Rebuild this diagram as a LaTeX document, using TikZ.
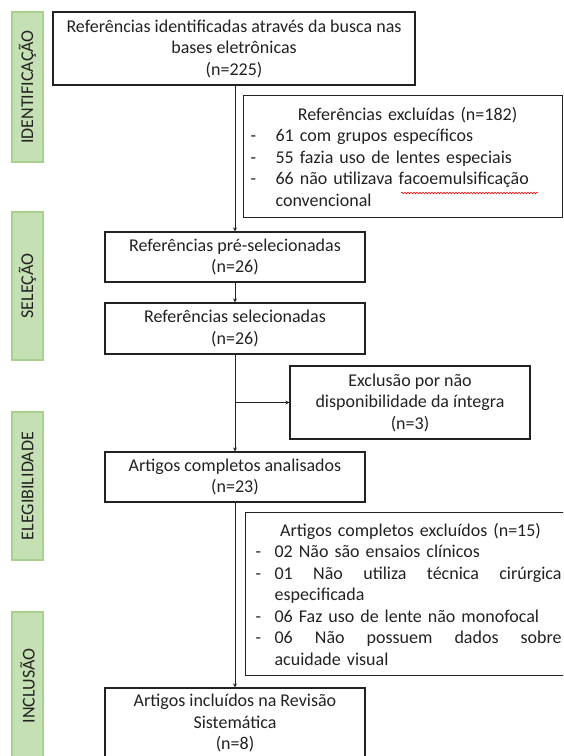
\documentclass[tikz,border=0pt]{standalone}
\usepackage{fontspec}
\setmainfont{Carlito}
\usetikzlibrary{arrows.meta,positioning,calc,decorations.pathmorphing}
\definecolor{phasefill}{HTML}{C5E0B4}
\definecolor{phaseline}{HTML}{A9D18E}
\definecolor{ink}{HTML}{222222}
\newcommand{\dashitem}[2][19pt]{\makebox[#1][l]{-}#2}
\newcommand{\contline}[2][19pt]{\hspace*{#1}#2}
\newcommand{\spreaditem}[3][19pt]{\makebox[#1][l]{-}\makebox[#2][s]{#3}}

\begin{document}
\begin{tikzpicture}[x=1pt, y=-1pt,
    every node/.style={font=\fontsize{18}{21.5}\selectfont, text=ink},
    box/.style={draw=ink, line width=1.2pt, align=center, inner sep=0pt, minimum width=260pt, minimum height=50pt},
    exclbox/.style={draw=ink, line width=1.2pt, align=left, inner xsep=7pt, inner ysep=0pt},
    phase/.style={fill=phasefill, draw=phaseline, line width=1.5pt, rotate=90, minimum width=148pt, minimum height=31pt, inner sep=0pt},
    flow/.style={draw=ink, line width=1pt, -{Stealth[length=4pt, width=4pt]}}]
    % Frame
    \useasboundingbox (0,0) rectangle (563,756);
    \clip (0,0) rectangle (563,756);

    % Phases
    \node[phase, minimum width=150pt] (ident) at (27.5,87) {IDENTIFICAÇÃO};
    \node[phase] (selec) at (27.5,286) {SELEÇÃO};
    \node[phase] (eleg) at (27.5,486) {ELEGIBILIDADE};
    \node[phase] (inclus) at (27.5,686) {INCLUSÃO};

    % Main flow
    \node[box, minimum width=362pt, minimum height=73pt] (found) at (234,48.5) {Referências identificadas através da busca nas\\bases eletrônicas\\(n=225)};
    \node[box] (presel) at (235,257) {Referências pré-selecionadas\\(n=26)};
    \node[box, minimum height=51pt] (sel) at (235,328.5) {Referências selecionadas\\(n=26)};
    \node[box] (full) at (235,477) {Artigos completos analisados\\(n=23)};
    \node[box, minimum height=70pt] (included) at (235,723) {Artigos incluídos na Revisão\\Sistemática\\(n=8)};

    % Exclusions
    \node[exclbox, text width=305pt, minimum height=122pt, anchor=north west] (excl1) at (243,95) {%
        \makebox[305pt]{\hspace*{9pt}Referências excluídas (n=182)}\\
        \dashitem[25pt]{61 com grupos específicos}\\
        \dashitem[25pt]{55 fazia uso de lentes especiais}\\
        \dashitem[25pt]{66 não utilizava facoemulsificação}\\
        \contline[25pt]{convencional}};
    \node[box, minimum width=240pt, minimum height=73pt] (excl2) at (410,402.5) {Exclusão por não\\disponibilidade da íntegra\\(n=3)};
    \node[exclbox, inner xsep=10pt, text width=310pt, minimum height=163pt, anchor=north west] (excl3) at (245,512) {%
        \makebox[310pt]{Artigos completos excluídos (n=15)}\\
        \dashitem{02 Não são ensaios clínicos}\\
        \spreaditem{287pt}{01\hfill Não\hfill utiliza\hfill técnica\hfill cirúrgica}\\
        \contline{especificada}\\
        \dashitem{06 Faz uso de lente não monofocal}\\
        \spreaditem{287pt}{06\hfill Não\hfill possuem\hfill dados\hfill sobre}\\
        \contline{acuidade visual}};

    % Spell-check mark
    \draw[red, line width=0.6pt, decorate, decoration={snake, amplitude=0.8pt, segment length=3pt}] (401,193) -- (538,193);

    % Connectors
    \coordinate (spine) at (235,0);
    \draw[flow] (found.south -| spine) -- (presel.north);
    \draw[flow] (presel) -- (sel);
    \draw[flow] (sel) -- (full);
    \draw[flow] (spine |- excl2.west) -- (excl2.west);
    \draw[flow] (full) -- (included);
\end{tikzpicture}
\end{document}
